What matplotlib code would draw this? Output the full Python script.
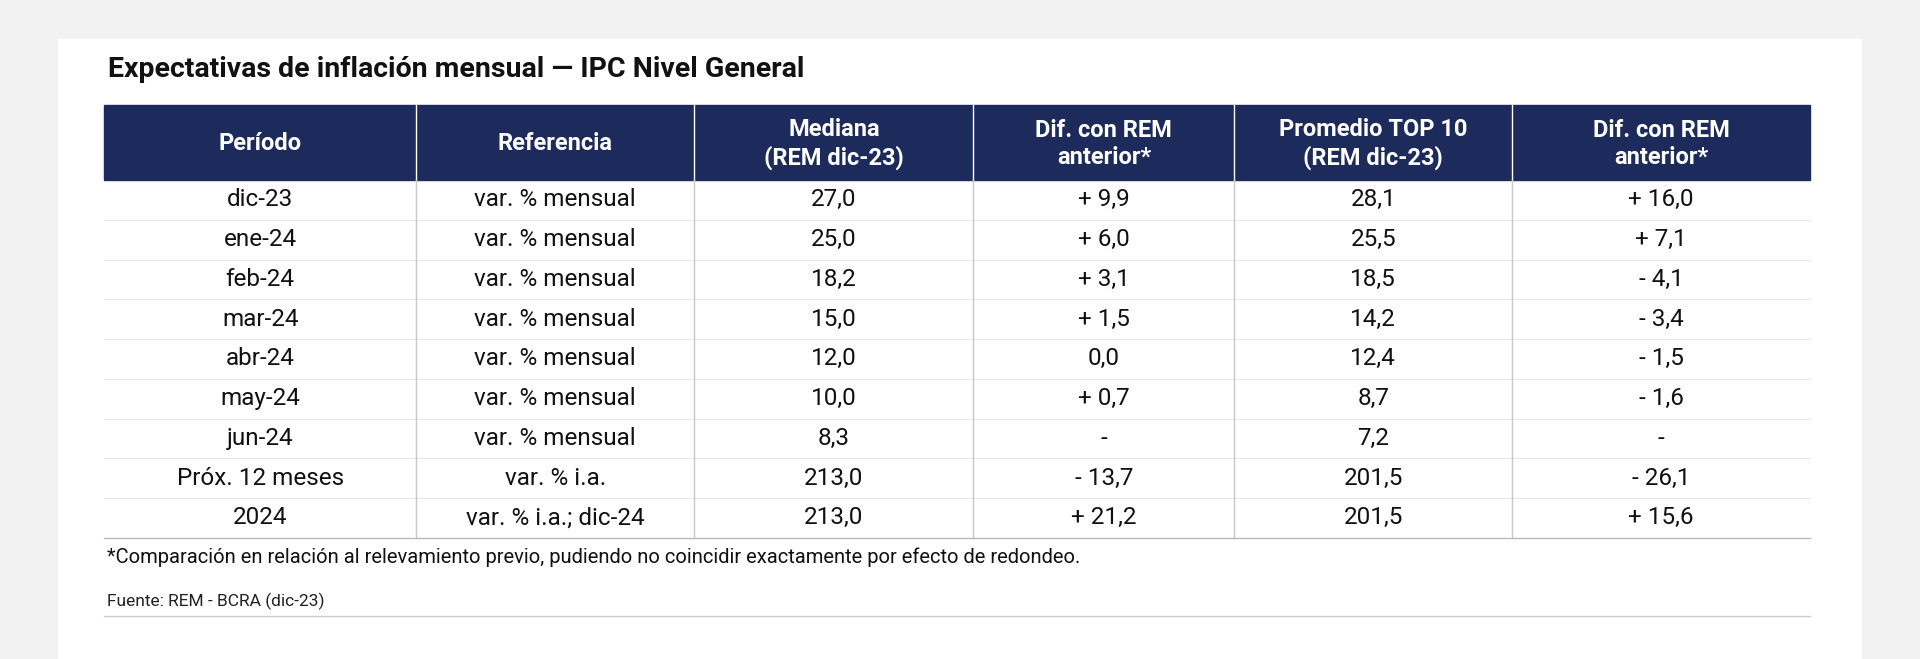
import matplotlib.pyplot as plt
from matplotlib.patches import Rectangle

plt.rcParams['font.family'] = ['Roboto', 'DejaVu Sans']

title = 'Expectativas de inflación mensual — IPC Nivel General'
headers = ['Período', 'Referencia', 'Mediana\n(REM dic-23)', 'Dif. con REM\nanterior*',
           'Promedio TOP 10\n(REM dic-23)', 'Dif. con REM\nanterior*']
periodo = ['dic-23', 'ene-24', 'feb-24', 'mar-24', 'abr-24', 'may-24', 'jun-24',
           'Próx. 12 meses', '2024']
referencia = ['var. % mensual'] * 7 + ['var. % i.a.', 'var. % i.a.; dic-24']
mediana = ['27,0', '25,0', '18,2', '15,0', '12,0', '10,0', '8,3', '213,0', '213,0']
dif_mediana = ['+ 9,9', '+ 6,0', '+ 3,1', '+ 1,5', '0,0', '+ 0,7', '-', '- 13,7', '+ 21,2']
top10 = ['28,1', '25,5', '18,5', '14,2', '12,4', '8,7', '7,2', '201,5', '201,5']
dif_top10 = ['+ 16,0', '+ 7,1', '- 4,1', '- 3,4', '- 1,5', '- 1,6', '-', '- 26,1', '+ 15,6']
nota = '*Comparación en relación al relevamiento previo, pudiendo no coincidir exactamente por efecto de redondeo.'
fuente = 'Fuente: REM - BCRA (dic-23)'

cols = [periodo, referencia, mediana, dif_mediana, top10, dif_top10]
edges = [85, 340, 567, 795, 1008, 1235, 1478]
navy = '#1c2a5c'

fig = plt.figure(figsize=(19.2, 6.59), dpi=100)
fig.patch.set_facecolor('#f2f2f2')
ax = fig.add_axes([0, 0, 1, 1])
ax.set_xlim(0, 1568)
ax.set_ylim(538, 0)
ax.axis('off')

ax.add_patch(Rectangle((47, 32), 1473, 520, color='white', zorder=0))
ax.text(88, 57, title, fontsize=20.5, fontweight='bold', color='#111111', va='center')

top, hbot, bot = 86, 147, 439
ax.add_patch(Rectangle((edges[0], top), edges[-1] - edges[0], hbot - top, color=navy, zorder=1))
rh = (bot - hbot) / len(periodo)
for j, h in enumerate(headers):
    cx = (edges[j] + edges[j + 1]) / 2
    ax.text(cx, (top + hbot) / 2 + 1, h, ha='center', va='center', color='white',
            fontsize=17, fontweight='bold', linespacing=1.25, zorder=2)
for x in edges[1:-1]:
    ax.plot([x, x], [top, hbot], color='white', lw=1, zorder=2)
    ax.plot([x, x], [hbot, bot], color='#c8c8c8', lw=1, zorder=2)
for i in range(len(periodo)):
    cy = hbot + rh * (i + 0.5)
    for j, c in enumerate(cols):
        cx = (edges[j] + edges[j + 1]) / 2
        ax.text(cx, cy, c[i], ha='center', va='center', fontsize=17.5, color='#111111')
    if i > 0:
        ax.plot([edges[0], edges[-1]], [hbot + rh * i] * 2, color='#e8e8e8', lw=0.8, zorder=1)
ax.plot([edges[0], edges[-1]], [bot, bot], color='#bbbbbb', lw=1)

ax.text(87, 455, nota, fontsize=14.5, color='#111111', va='center')
ax.text(87, 491, fuente, fontsize=12.5, color='#222222', va='center')
ax.plot([edges[0], edges[-1]], [503, 503], color='#cccccc', lw=1)

fig.savefig('out.png', dpi=100, facecolor=fig.get_facecolor())
